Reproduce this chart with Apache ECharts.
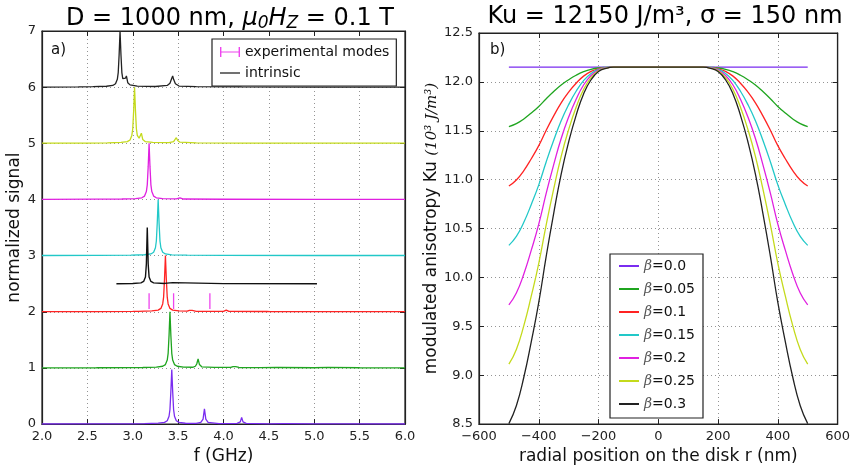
<!DOCTYPE html>
<html><head><meta charset="utf-8">
<script src="https://cdn.jsdelivr.net/npm/echarts@6/dist/echarts.min.js"></script>
<style>html,body{margin:0;padding:0;background:#fff}#c{width:853px;height:470px}</style>
</head><body><div id="c"></div>
<script>
// ---------- Left panel (a): spectra, [f (GHz), normalized signal] ----------
const traceOffsets = [0, 1, 2, 3, 4, 5, 6];
const traceColors = ['#7a2cf0', '#1fa51f', '#ff2323', '#22c8c8', '#e020e0', '#c4da1c', '#222222'];
const trace0 = [[2.0,0.002],[2.6,0.003],[3.0,0.005],[3.13,0.008],[3.28,0.016],[3.35,0.03],[3.38,0.06],[3.40,0.14],[3.41,0.26],[3.42,0.58],[3.43,0.97],[3.44,0.58],[3.45,0.26],[3.46,0.14],[3.48,0.06],[3.51,0.03],[3.58,0.015],[3.70,0.012],[3.75,0.03],[3.775,0.09],[3.79,0.27],[3.805,0.09],[3.83,0.03],[3.95,0.01],[4.15,0.012],[4.185,0.04],[4.20,0.12],[4.215,0.04],[4.25,0.012],[4.5,0.005],[4.65,0.01],[4.67,0.04],[4.69,0.01],[5.0,0.003],[5.23,0.005],[5.25,0.018],[5.27,0.005],[6.0,0.002]];
const trace1 = [[2.0,0.002],[2.6,0.003],[3.0,0.005],[3.11,0.008],[3.26,0.016],[3.33,0.03],[3.36,0.06],[3.38,0.14],[3.39,0.26],[3.40,0.58],[3.41,1.0],[3.42,0.58],[3.43,0.26],[3.44,0.14],[3.46,0.06],[3.49,0.03],[3.56,0.015],[3.66,0.012],[3.69,0.03],[3.705,0.07],[3.72,0.16],[3.735,0.06],[3.76,0.02],[3.9,0.01],[4.08,0.01],[4.105,0.025],[4.12,0.06],[4.135,0.025],[4.17,0.008],[4.4,0.005],[4.58,0.008],[4.6,0.025],[4.62,0.008],[5.0,0.003],[5.15,0.01],[5.5,0.003],[6.0,0.002]];
const trace2 = [[2.0,0.002],[2.6,0.003],[3.0,0.006],[3.06,0.008],[3.21,0.016],[3.28,0.03],[3.31,0.06],[3.33,0.14],[3.34,0.26],[3.35,0.58],[3.36,1.0],[3.37,0.58],[3.38,0.26],[3.39,0.14],[3.41,0.06],[3.44,0.03],[3.51,0.015],[3.6,0.01],[3.625,0.025],[3.64,0.06],[3.655,0.025],[3.7,0.008],[4.0,0.006],[4.03,0.03],[4.06,0.006],[4.48,0.005],[4.5,0.015],[4.52,0.004],[4.98,0.003],[5.0,0.01],[5.02,0.003],[6.0,0.002]];
const trace3 = [[2.0,0.002],[2.6,0.004],[2.98,0.008],[3.13,0.016],[3.20,0.03],[3.23,0.06],[3.25,0.14],[3.26,0.26],[3.27,0.58],[3.28,1.0],[3.29,0.58],[3.30,0.26],[3.31,0.14],[3.33,0.06],[3.36,0.03],[3.43,0.015],[3.6,0.008],[4.0,0.004],[5.0,0.002],[6.0,0.002]];
const trace4 = [[2.0,0.002],[2.6,0.005],[2.88,0.008],[3.03,0.016],[3.10,0.03],[3.13,0.06],[3.15,0.14],[3.16,0.26],[3.17,0.58],[3.18,1.0],[3.19,0.58],[3.20,0.26],[3.21,0.14],[3.23,0.06],[3.26,0.03],[3.33,0.015],[3.48,0.01],[3.52,0.03],[3.56,0.008],[4.0,0.004],[5.0,0.002],[6.0,0.002]];
const trace5 = [[2.0,0.002],[2.5,0.005],[2.72,0.008],[2.87,0.016],[2.94,0.03],[2.97,0.06],[2.99,0.14],[3.00,0.26],[3.01,0.58],[3.02,1.0],[3.03,0.58],[3.04,0.26],[3.05,0.14],[3.07,0.09],[3.085,0.12],[3.095,0.18],[3.11,0.07],[3.14,0.03],[3.22,0.015],[3.40,0.012],[3.45,0.03],[3.465,0.06],[3.48,0.1],[3.495,0.05],[3.52,0.02],[3.7,0.008],[4.2,0.004],[5.0,0.002],[6.0,0.002]];
const trace6 = [[2.0,0.002],[2.4,0.005],[2.56,0.008],[2.71,0.016],[2.78,0.03],[2.81,0.06],[2.83,0.14],[2.84,0.26],[2.85,0.58],[2.86,1.0],[2.87,0.58],[2.88,0.26],[2.89,0.15],[2.905,0.12],[2.92,0.16],[2.93,0.2],[2.945,0.08],[2.97,0.04],[3.05,0.02],[3.25,0.012],[3.38,0.03],[3.41,0.07],[3.43,0.16],[3.44,0.2],[3.45,0.14],[3.47,0.06],[3.51,0.02],[3.7,0.008],[4.2,0.004],[5.0,0.002],[6.0,0.002]];
const traces = [trace0, trace1, trace2, trace3, trace4, trace5, trace6];
const intrinsicOffset = 2.5;
const intrinsic = [[2.82,0.0],[3.0,0.004],[3.09,0.015],[3.12,0.04],[3.14,0.12],[3.15,0.35],[3.16,1.0],[3.17,0.35],[3.18,0.12],[3.20,0.04],[3.23,0.015],[3.35,0.005],[3.44,0.02],[3.46,0.005],[4.0,0.002],[5.03,0.0]];
const expModes = [3.18, 3.45, 3.85];
const expLow = 2.05, expHigh = 2.33;

// ---------- Right panel (b): Ku profile vs r ----------
const rPos = [-500,-475,-450,-425,-400,-375,-350,-325,-300,-275,-250,-225,-200,-175,-150,0,150,175,200,225,250,275,300,325,350,375,400,425,450,475,500];
const betaNames = ['β=0.0','β=0.05','β=0.1','β=0.15','β=0.2','β=0.25','β=0.3'];
const ku00 = [12.15,12.15,12.15,12.15,12.15,12.15,12.15,12.15,12.15,12.15,12.15,12.15,12.15,12.15,12.15,12.15,12.15,12.15,12.15,12.15,12.15,12.15,12.15,12.15,12.15,12.15,12.15,12.15,12.15,12.15,12.15];
const ku05 = [11.543,11.573,11.621,11.682,11.749,11.828,11.901,11.968,12.022,12.068,12.104,12.129,12.143,12.148,12.15,12.15,12.15,12.148,12.143,12.129,12.104,12.068,12.022,11.968,11.901,11.828,11.749,11.682,11.621,11.573,11.543];
const ku10 = [10.935,10.996,11.093,11.214,11.348,11.506,11.652,11.786,11.895,11.986,12.059,12.107,12.135,12.146,12.15,12.15,12.15,12.146,12.135,12.107,12.059,11.986,11.895,11.786,11.652,11.506,11.348,11.214,11.093,10.996,10.935];
const ku15 = [10.328,10.419,10.564,10.747,10.947,11.184,11.403,11.603,11.767,11.904,12.013,12.086,12.128,12.145,12.15,12.15,12.15,12.145,12.128,12.086,12.013,11.904,11.767,11.603,11.403,11.184,10.947,10.747,10.564,10.419,10.328];
const ku20 = [9.72,9.841,10.036,10.279,10.546,10.862,11.154,11.421,11.640,11.822,11.968,12.065,12.121,12.143,12.15,12.15,12.15,12.143,12.121,12.065,11.968,11.822,11.640,11.421,11.154,10.862,10.546,10.279,10.036,9.841,9.72];
const ku25 = [9.113,9.264,9.507,9.811,10.145,10.540,10.905,11.239,11.512,11.740,11.922,12.044,12.114,12.141,12.15,12.15,12.15,12.141,12.114,12.044,11.922,11.740,11.512,11.239,10.905,10.540,10.145,9.811,9.507,9.264,9.113];
const ku30 = [8.505,8.687,8.979,9.343,9.744,10.218,10.656,11.057,11.385,11.658,11.877,12.022,12.106,12.139,12.15,12.15,12.15,12.139,12.106,12.022,11.877,11.658,11.385,11.057,10.656,10.218,9.744,9.343,8.979,8.687,8.505];
const kuCurves = [ku00, ku05, ku10, ku15, ku20, ku25, ku30];

const FONT = 'DejaVu Sans';
const gridLine = { show: true, lineStyle: { color: '#888', type: [1, 3], width: 0.9 } };
const axisBase = {
  axisLine: { show: true, onZero: false, lineStyle: { color: '#222', width: 1.2 } },
  axisTick: { show: true, inside: true, length: 5, lineStyle: { color: '#222' } },
  axisLabel: { color: '#222', fontSize: 13, fontFamily: FONT },
  splitLine: gridLine,
  nameTextStyle: { color: '#111', fontSize: 17, fontFamily: FONT }
};
function mirrorAxis(base, extra) {
  return Object.assign({}, base, extra, { axisLabel: { show: false }, splitLine: { show: false }, name: '' });
}
const minus = v => (v < 0 ? '\u2212' + Math.abs(v) : String(v));

const xLeft = Object.assign({}, axisBase, { gridIndex: 0, type: 'value', min: 2, max: 6, interval: 0.5,
  name: 'f (GHz)', nameLocation: 'middle', nameGap: 21,
  axisLabel: Object.assign({}, axisBase.axisLabel, { formatter: v => v.toFixed(1), margin: 6 }) });
const yLeft = Object.assign({}, axisBase, { gridIndex: 0, type: 'value', min: 0, max: 7, interval: 1,
  name: 'normalized signal', nameLocation: 'middle', nameGap: 19,
  axisLabel: Object.assign({}, axisBase.axisLabel, { margin: 6 }) });
const xRight = Object.assign({}, axisBase, { gridIndex: 1, type: 'value', min: -600, max: 600, interval: 200,
  name: 'radial position on the disk r (nm)', nameLocation: 'middle', nameGap: 21,
  axisLabel: Object.assign({}, axisBase.axisLabel, { formatter: minus, margin: 6 }) });
const yRight = Object.assign({}, axisBase, { gridIndex: 1, type: 'value', min: 8.5, max: 12.5, interval: 0.5,
  name: '{n|modulated anisotropy Ku }{m|(10³ J/m³)}', nameLocation: 'middle', nameGap: 32,
  nameTextStyle: { color: '#111', fontSize: 17, fontFamily: FONT,
    rich: { n: { fontSize: 17, fontFamily: FONT, color: '#111' }, m: { fontSize: 15, fontFamily: 'DejaVu Serif', fontStyle: 'italic', color: '#111' } } },
  axisLabel: Object.assign({}, axisBase.axisLabel, { formatter: v => v.toFixed(1), margin: 6 }) });

const series = [];
traces.forEach((t, i) => {
  series.push({ type: 'line', name: 'trace' + i, xAxisIndex: 0, yAxisIndex: 0, showSymbol: false, silent: true,
    data: t.map(p => [p[0], p[1] + traceOffsets[i]]), lineStyle: { color: traceColors[i], width: 1.3 }, itemStyle: { color: traceColors[i] } });
});
series.push({ type: 'custom', name: 'experimental modes', xAxisIndex: 0, yAxisIndex: 0, silent: true,
  itemStyle: { color: '#ee44ee' },
  data: expModes.map(f => [f, expLow, expHigh]),
  encode: { x: 0, y: [1, 2] },
  renderItem: function (params, api) {
    const p1 = api.coord([api.value(0), api.value(1)]);
    const p2 = api.coord([api.value(0), api.value(2)]);
    return { type: 'line', shape: { x1: p1[0], y1: p1[1], x2: p2[0], y2: p2[1] }, style: { stroke: '#ee44ee', lineWidth: 1.3 } };
  } });
series.push({ type: 'line', name: 'intrinsic', xAxisIndex: 0, yAxisIndex: 0, showSymbol: false, silent: true,
  data: intrinsic.map(p => [p[0], p[1] + intrinsicOffset]), lineStyle: { color: '#111', width: 1.4 }, itemStyle: { color: '#111' } });
kuCurves.forEach((c, i) => {
  series.push({ type: 'line', name: betaNames[i], xAxisIndex: 2, yAxisIndex: 2, showSymbol: false, silent: true,
    smooth: 0.5,
    data: c.map((v, k) => [rPos[k], v]), lineStyle: { color: traceColors[i], width: 1.3 }, itemStyle: { color: traceColors[i] } });
});

const option = {
  animation: false,
  backgroundColor: '#fff',
  title: [
    { text: '{n|D = 1000 nm, }{m|μ}{s|0}{m|H}{s|Z}{n| = 0.1 T}', left: 225, top: 0, textAlign: 'center',
      textStyle: { fontSize: 24, fontFamily: FONT, fontWeight: 'normal', color: '#000',
        rich: { n: { fontSize: 24, fontFamily: FONT, color: '#000' },
                m: { fontSize: 24, fontFamily: FONT, fontStyle: 'italic', color: '#000' },
                s: { fontSize: 17, fontFamily: FONT, fontStyle: 'italic', color: '#000', padding: [10, 0, 0, 0] } } } },
    { text: 'Ku = 12150 J/m³, σ = 150 nm', left: 660, top: 0, textAlign: 'center',
      textStyle: { fontSize: 24, fontFamily: FONT, fontWeight: 'normal', color: '#000' } },
    { text: 'a)', left: 46, top: 38, textStyle: { fontSize: 15, fontFamily: FONT, fontWeight: 'normal', color: '#111' } },
    { text: 'b)', left: 485, top: 38, textStyle: { fontSize: 15, fontFamily: FONT, fontWeight: 'normal', color: '#111' } }
  ],
  grid: [
    { left: 42, top: 31, width: 363, height: 396, show: true, borderColor: '#222', borderWidth: 1.2, backgroundColor: 'transparent' },
    { left: 479, top: 33, width: 362, height: 395, show: true, borderColor: '#222', borderWidth: 1.2, backgroundColor: 'transparent' }
  ],
  xAxis: [
    xLeft,
    mirrorAxis(axisBase, { gridIndex: 0, type: 'value', min: 2, max: 6, interval: 0.5, position: 'top' }),
    xRight,
    mirrorAxis(axisBase, { gridIndex: 1, type: 'value', min: -600, max: 600, interval: 200, position: 'top' })
  ],
  yAxis: [
    yLeft,
    mirrorAxis(axisBase, { gridIndex: 0, type: 'value', min: 0, max: 7, interval: 1, position: 'right' }),
    yRight,
    mirrorAxis(axisBase, { gridIndex: 1, type: 'value', min: 8.5, max: 12.5, interval: 0.5, position: 'right' })
  ],
  legend: [
    { data: [
        { name: 'experimental modes', icon: 'path://M0,0H1.4V10H0Z M1.4,4.4H18.6V5.6H1.4Z M18.6,0H20V10H18.6Z' },
        { name: 'intrinsic', icon: 'path://M0,4.4H20V5.6H0Z' } ],
      orient: 'vertical', left: 212, top: 39, itemWidth: 20, itemHeight: 10, itemGap: 7, itemTextGap: 14,
      padding: [6, 7, 6, 8], borderColor: '#222', borderWidth: 1.2, backgroundColor: '#fff',
      selectedMode: false, textStyle: { fontSize: 14, fontFamily: FONT, color: '#111' } },
    { data: betaNames.map(n => ({ name: n, icon: 'rect' })),
      orient: 'vertical', left: 610, top: 254, itemWidth: 20, itemHeight: 2, itemGap: 7, itemTextGap: 14,
      padding: [4, 8, 6, 9], borderColor: '#222', borderWidth: 1.2, backgroundColor: '#fff',
      selectedMode: false,
      formatter: name => '{b|β}{n|' + name.substring(1) + '}',
      textStyle: { fontSize: 14, fontFamily: FONT, color: '#111', lineHeight: 16,
        rich: { b: { fontSize: 14, fontFamily: 'DejaVu Serif', fontStyle: 'italic', color: '#555', lineHeight: 16 },
                n: { fontSize: 14, fontFamily: FONT, color: '#111', lineHeight: 16 } } } }
  ],
  series: series
};
const chart = echarts.init(document.getElementById('c'), null, { renderer: 'canvas' });
chart.setOption(option);
</script></body></html>
